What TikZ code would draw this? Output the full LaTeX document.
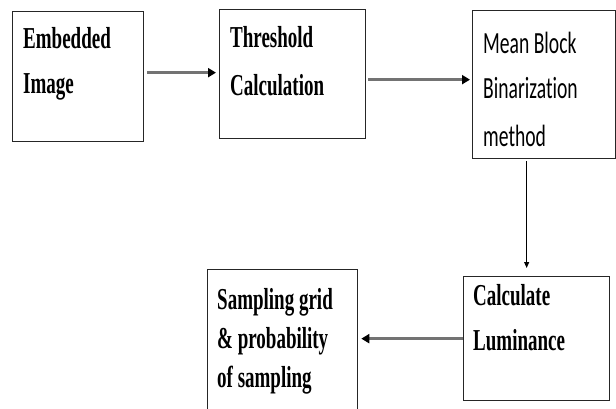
\documentclass[tikz,border=0pt]{standalone}
\usepackage{fontspec}
\usetikzlibrary{arrows.meta,calc}
\newfontfamily\tnrfont{Liberation Serif}
\newfontfamily\calfont[Ligatures=NoCommon]{Carlito}
\newcommand\stretchy[2][1.6]{\scalebox{1}[#1]{#2}}
\tikzset{
  box/.style={draw=black!85, line width=1.3pt, anchor=north west, inner sep=0pt},
  tb/.style={anchor=base west, inner sep=0pt, font=\tnrfont\bfseries\fontsize{19}{19}\selectfont},
  tc/.style={anchor=base west, inner sep=0pt, font=\calfont\fontsize{19.6}{19.6}\selectfont},
  harr/.style={draw=black!55, line width=3pt, -{Triangle[length=8pt,width=9pt,color=black]}},
  varr/.style={draw=black, line width=1pt, -{Triangle[length=6pt,width=5pt,color=black]}}
}
\begin{document}
\begin{tikzpicture}[x=1pt,y=-1pt]
\clip (0,0) rectangle (616,408);
\fill[white] (0,0) rectangle (616,408);
% boxes
\node[box, minimum width=131pt, minimum height=130pt] (b1) at (12,11) {};
\node[box, minimum width=146pt, minimum height=129pt] (b2) at (219,9) {};
\node[box, minimum width=143pt, minimum height=148pt] (b3) at (472,10) {};
\node[box, minimum width=146pt, minimum height=124pt] (b4) at (463,276) {};
\node[box, minimum width=150pt, minimum height=150pt] (b5) at (207,269) {};
% texts
\node[tb] (t1a) at (23,48) {\stretchy{Embedded}};
\node[tb] (t1b) at (23,93) {\stretchy{Image}};
\node[tb] (t2a) at (230,47) {\stretchy{Threshold}};
\node[tb] (t2b) at (230,95) {\stretchy{Calculation}};
\node[tc] (t3a) at (483,53) {\stretchy[1.57]{Mean Block}};
\node[tc] (t3b) at (483,98) {\stretchy[1.57]{Binarization}};
\node[tc] (t3c) at (483,146) {\stretchy[1.57]{method}};
\node[tb] (t4a) at (473,305) {\stretchy{Calculate}};
\node[tb] (t4b) at (473,350) {\stretchy{Luminance}};
\node[tb] (t5a) at (217,309) {\stretchy{Sampling grid}};
\node[tb] (t5b) at (217,348) {\stretchy{\& probability}};
\node[tb] (t5c) at (217,387) {\stretchy{of sampling}};
% connectors
\coordinate (a1) at ($(b1.east)+(3,-4)$);
\draw[harr, shorten >=3pt] (a1) -- (a1 -| b2.west);
\coordinate (a2) at ($(b2.east)+(2,5.5)$);
\draw[harr, shorten >=2pt] (a2) -- (a2 -| b3.west);
\coordinate (a3) at ($(b3.south)+(-17.5,2)$);
\draw[varr, shorten >=8pt] (a3) -- (a3 |- b4.north);
\draw[harr, shorten >=3pt] (b4.west) -- (b4.west -| b5.east);
\end{tikzpicture}
\end{document}
